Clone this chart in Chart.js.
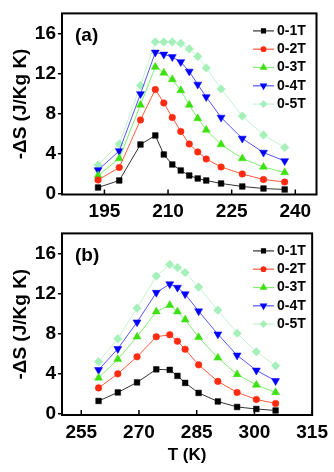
<!DOCTYPE html>
<html><head><meta charset="utf-8">
<script src="https://cdn.jsdelivr.net/npm/chart.js@4.4.0/dist/chart.umd.min.js"></script>
<style>
html,body{margin:0;padding:0;background:#fff;width:334px;height:472px;overflow:hidden}
.box{position:absolute;left:0;width:334px}
canvas{display:block}
</style></head><body>
<div class="box" style="top:0;height:228px"><canvas id="c1" width="334" height="228"></canvas></div>
<div class="box" style="top:220px;height:252px"><canvas id="c2" width="334" height="252"></canvas></div>
<script>
// ---- data ----
const seriesLabels = ['0-1T', '0-2T', '0-3T', '0-4T', '0-5T'];

const tempA = [193.5, 198.5, 203.5, 207, 209, 211, 213, 215, 217, 219, 222.5, 227.5, 232.5, 237.5];
const a1T = [0.6, 1.3, 4.9, 5.8, 3.9, 2.9, 2.3, 1.8, 1.5, 1.3, 1.0, 0.7, 0.5, 0.4];
const a2T = [1.35, 2.6, 7.35, 10.4, 9.05, 7.6, 6.2, 4.95, 4.15, 3.45, 2.65, 1.95, 1.4, 1.15];
const a3T = [1.8, 3.5, 8.85, 12.65, 12.05, 11.4, 10.3, 8.85, 7.5, 6.35, 4.9, 3.5, 2.65, 2.1];
const a4T = [2.35, 4.25, 9.95, 14.1, 13.9, 13.65, 13.15, 12.2, 10.9, 9.65, 7.6, 5.5, 4.1, 3.25];
const a5T = [2.85, 4.95, 10.8, 15.15, 15.15, 15.15, 15.0, 14.45, 13.7, 12.55, 10.45, 7.75, 5.85, 4.6];

const tempB = [259.5, 264.5, 269.5, 274.5, 278, 280, 282, 285.5, 290.5, 295.5, 300.5, 305.5];
const b1T = [1.3, 2.15, 3.15, 4.45, 4.4, 3.8, 3.1, 2.1, 1.25, 0.7, 0.5, 0.35];
const b2T = [2.6, 4.0, 5.7, 7.7, 7.9, 7.25, 6.45, 4.9, 3.25, 2.15, 1.45, 1.05];
const b3T = [3.6, 5.45, 7.7, 10.2, 10.85, 10.2, 9.4, 7.65, 5.6, 3.95, 2.9, 2.15];
const b4T = [4.4, 6.5, 9.15, 12.1, 12.95, 12.6, 11.95, 10.25, 7.95, 5.85, 4.35, 3.3];
const b5T = [5.2, 7.5, 10.55, 13.75, 14.9, 14.6, 14.1, 12.65, 10.35, 8.05, 6.2, 4.8];

const xTicksA = [195, 210, 225, 240];
const xTicksB = [255, 270, 285, 300, 315];
const yTicks = [0, 4, 8, 12, 16];

// ---- styling ----
const FONT = '"Liberation Sans", Arial, sans-serif';
const styles = [
  {line: '#333333', pt: '#000000', ps: 'rect', r: 4, rot: 0},
  {line: '#ff5a3c', pt: '#ff2a10', ps: 'circle', r: 3.3, rot: 0},
  {line: '#80ee70', pt: '#3de010', ps: 'triangle', r: 4.6, rot: 0},
  {line: '#5555ff', pt: '#0000ff', ps: 'triangle', r: 4.6, rot: 180},
  {line: '#c2f5cf', pt: '#a4f0b8', ps: 'rectRot', r: 4.3, rot: 0}
];

function makeDatasets(xs, series) {
  return series.map((ys, i) => ({
    label: seriesLabels[i],
    data: xs.map((x, k) => ({x: x, y: ys[k]})),
    borderColor: styles[i].line,
    borderWidth: 1,
    pointStyle: styles[i].ps,
    pointRotation: styles[i].rot,
    pointRadius: styles[i].r,
    pointBackgroundColor: styles[i].pt,
    pointBorderColor: styles[i].pt,
    pointBorderWidth: 0.5,
    tension: 0,
    clip: false
  }));
}

const framePlugin = {
  id: 'frame',
  afterDraw(chart) {
    const ctx = chart.ctx, ca = chart.chartArea;
    ctx.save();
    ctx.strokeStyle = '#000';
    ctx.lineWidth = 2;
    ctx.strokeRect(ca.left, ca.top, ca.right - ca.left, ca.bottom - ca.top);
    // inward x ticks
    const xs = chart.scales.x;
    ctx.lineWidth = 1.5;
    xs.ticks.forEach(t => {
      const px = xs.getPixelForValue(t.value);
      ctx.beginPath();
      ctx.moveTo(px, ca.bottom);
      ctx.lineTo(px, ca.bottom - 5);
      ctx.stroke();
    });
    // legend
    chart.data.datasets.forEach((ds, i) => {
      const y = ca.top + 17.5 + i * 18.3;
      const x0 = 253, x1 = 274;
      ctx.strokeStyle = ds.borderColor;
      ctx.lineWidth = 1.2;
      ctx.beginPath(); ctx.moveTo(x0, y); ctx.lineTo(x1, y); ctx.stroke();
      ctx.fillStyle = ds.pointBackgroundColor;
      ctx.strokeStyle = ds.pointBorderColor;
      Chart.helpers.drawPoint(ctx, {pointStyle: ds.pointStyle, rotation: ds.pointRotation, radius: ds.pointRadius * 0.7, borderWidth: 0.5}, (x0 + x1) / 2, y);
      ctx.fillStyle = '#000';
      ctx.font = 'bold 14px ' + FONT;
      ctx.textBaseline = 'middle';
      ctx.textAlign = 'left';
      ctx.fillText(ds.label, 277, y);
    });
    // panel label
    ctx.fillStyle = '#000';
    ctx.font = 'bold 19px ' + FONT;
    ctx.textBaseline = 'middle';
    ctx.textAlign = 'left';
    ctx.fillText(chart.options.plugins.panelLabel, 75, ca.top + 22);
    ctx.restore();
  }
};

function makeChart(id, xs, series, xMin, xMax, xTicks, xAxisH, showXTitle, padTop) {
  return new Chart(document.getElementById(id), {
    type: 'line',
    data: {datasets: makeDatasets(xs, series)},
    options: {
      responsive: false,
      animation: false,
      devicePixelRatio: 1,
      layout: {padding: {top: padTop, right: 17.5, left: 0, bottom: 0}},
      plugins: {legend: {display: false}, tooltip: {enabled: false}, panelLabel: id === 'c1' ? '(a)' : '(b)'},
      scales: {
        x: {
          type: 'linear', min: xMin, max: xMax,
          afterBuildTicks: s => { s.ticks = xTicks.map(v => ({value: v})); },
          afterFit: s => { s.height = xAxisH; },
          grid: {display: false, drawTicks: false},
          border: {display: false},
          ticks: {color: '#000', padding: 6, maxRotation: 0, autoSkip: false, font: {family: FONT, size: 19, weight: 'bold'}},
          title: {display: showXTitle, text: 'T (K)', color: '#000', font: {family: FONT, size: 17, weight: 'bold'}, padding: {top: 0, bottom: 6}}
        },
        y: {
          type: 'linear', min: -0.1, max: 18,
          afterBuildTicks: s => { s.ticks = yTicks.map(v => ({value: v})); },
          afterFit: s => { s.width = 62; },
          grid: {drawOnChartArea: false, drawTicks: true, tickLength: 4, color: '#000', lineWidth: 1.5},
          border: {display: false},
          ticks: {color: '#000', padding: 2, font: {family: FONT, size: 19, weight: 'bold'}},
          title: {display: true, text: '-ΔS (J/Kg K)', color: '#000', font: {family: FONT, size: 19, weight: 'bold'}, padding: {top: 9, bottom: 0}}
        }
      }
    },
    plugins: [framePlugin]
  });
}

makeChart('c1', tempA, [a1T, a2T, a3T, a4T, a5T], 185, 245, xTicksA, 33.5, false, 12.7);
makeChart('c2', tempB, [b1T, b2T, b3T, b4T, b5T], 250, 315, xTicksB, 57, true, 13.3);
</script>
</body></html>
